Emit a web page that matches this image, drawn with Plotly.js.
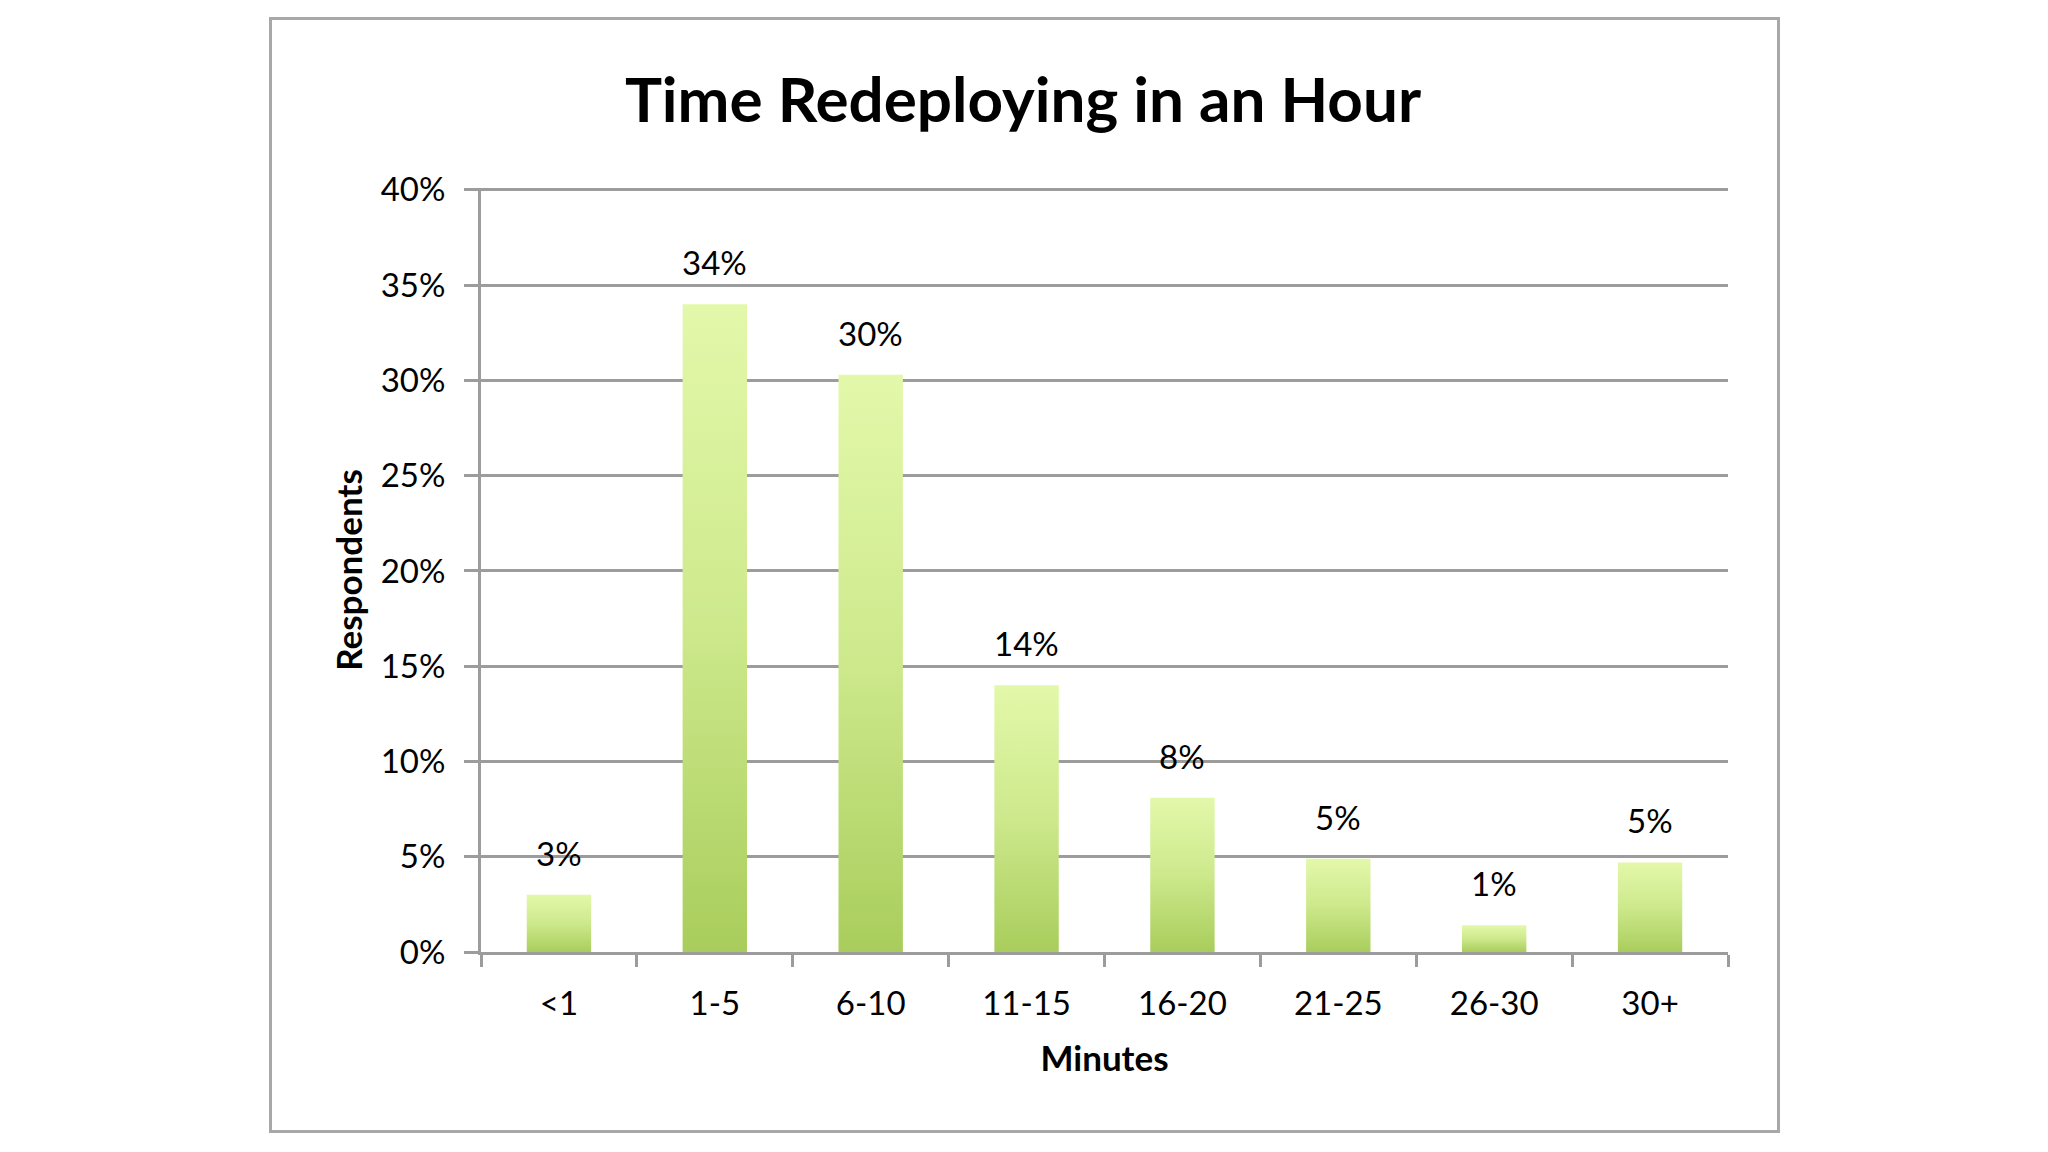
<!DOCTYPE html>
<html>
<head>
<meta charset="utf-8">
<script src="https://cdn.plot.ly/plotly-3.0.1.min.js"></script>
<style>
  html, body { margin: 0; padding: 0; background: #ffffff; }
  #wrap { position: relative; width: 2048px; height: 1152px; }
  #chart { position: absolute; left: 0; top: 0; width: 2048px; height: 1152px; }
  #frame { position: absolute; left: 269px; top: 17px; width: 1505px; height: 1110px;
           border: 3px solid #a8a8a8; pointer-events: none; }
</style>
</head>
<body>
<div id="wrap">
  <div id="chart"></div>
  <div id="frame"></div>
</div>
<script>
// ---- data ----
const categories = ['<1', '1-5', '6-10', '11-15', '16-20', '21-25', '26-30', '30+'];
const respondents = [3.0, 34.0, 30.3, 14.0, 8.1, 4.9, 1.4, 4.7];
const valueLabels = ['3%', '34%', '30%', '14%', '8%', '5%', '1%', '5%'];
const yTickValues = [0, 5, 10, 15, 20, 25, 30, 35, 40];
const yTickLabels = ['0%', '5%', '10%', '15%', '20%', '25%', '30%', '35%', '40%'];

const FONT = 'Lato, "Open Sans", sans-serif';
const GRID = '#9c9c9c';

const trace = {
  type: 'bar',
  x: categories,
  y: respondents,
  marker: { color: '#c6e47e', line: { width: 0 } },
  hoverinfo: 'x+y'
};

const annotations = categories.map((c, i) => ({
  x: c, y: respondents[i], xref: 'x', yref: 'y',
  text: valueLabels[i], showarrow: false,
  yanchor: 'bottom', yshift: 20,
  font: { family: FONT, size: 33, color: '#000' }
}));

const layout = {
  width: 2048, height: 1152,
  paper_bgcolor: '#ffffff', plot_bgcolor: '#ffffff',
  margin: { l: 481, r: 320, t: 188, b: 200, pad: 0 },
  showlegend: false,
  bargap: 0.587,
  font: { family: FONT, color: '#000' },
  title: {
    text: '<b>Time Redeploying in an Hour</b>',
    font: { family: FONT, size: 62, color: '#000' },
    xref: 'container', yref: 'container',
    x: 0.4995, xanchor: 'center', y: 1 - 100 / 1152, yanchor: 'middle'
  },
  xaxis: {
    type: 'category',
    tickson: 'boundaries',
    ticks: 'outside', ticklen: 12, tickwidth: 3, tickcolor: GRID,
    showline: true, linecolor: GRID, linewidth: 3,
    showgrid: false, zeroline: false,
    tickfont: { family: FONT, size: 33, color: '#000' },
    ticklabelstandoff: 20,
    title: { text: '<b>Minutes</b>', font: { family: FONT, size: 35, color: '#000' }, standoff: 26 }
  },
  yaxis: {
    range: [0, 40.1],
    tickvals: yTickValues, ticktext: yTickLabels,
    ticks: 'outside', ticklen: 14, tickwidth: 3, tickcolor: GRID,
    showline: true, linecolor: GRID, linewidth: 3,
    showgrid: true, gridcolor: GRID, gridwidth: 3,
    zeroline: false,
    tickfont: { family: FONT, size: 33, color: '#000' },
    ticklabelstandoff: 12,
    title: { text: '<b>Respondents</b>', font: { family: FONT, size: 35, color: '#000' }, standoff: 8 }
  },
  annotations: annotations
};

Plotly.newPlot('chart', [trace], layout, { displayModeBar: false, staticPlot: true }).then(gd => {
  // vertical light-to-dark gradient on each bar
  const svg = gd.querySelector('svg.main-svg');
  const NS = 'http://www.w3.org/2000/svg';
  let defs = svg.querySelector('defs');
  if (!defs) { defs = document.createElementNS(NS, 'defs'); svg.insertBefore(defs, svg.firstChild); }
  const grad = document.createElementNS(NS, 'linearGradient');
  grad.setAttribute('id', 'barGrad');
  grad.setAttribute('x1', '0'); grad.setAttribute('y1', '0');
  grad.setAttribute('x2', '0'); grad.setAttribute('y2', '1');
  [['0%', '#e3f8aa'], ['50%', '#cde98c'], ['100%', '#a9cd5c']].forEach(([o, c]) => {
    const s = document.createElementNS(NS, 'stop');
    s.setAttribute('offset', o); s.setAttribute('stop-color', c);
    grad.appendChild(s);
  });
  defs.appendChild(grad);
  gd.querySelectorAll('g.trace.bars path').forEach(p => { p.style.fill = 'url(#barGrad)'; });
});
</script>
</body>
</html>
